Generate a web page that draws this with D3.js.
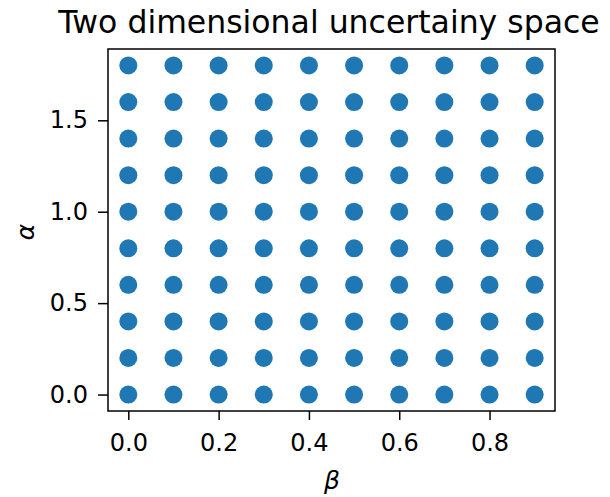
<!DOCTYPE html>
<html>
<head>
<meta charset="utf-8">
<script src="https://cdn.jsdelivr.net/npm/d3@7"></script>
<style>
  body { margin: 0; background: #fff; }
  svg { display: block; font-family: "DejaVu Sans", sans-serif; }
</style>
</head>
<body>
<svg id="chart" width="610" height="497"></svg>
<script>
// Grid of sampled parameter values
const betaValues = [0.0, 0.1, 0.2, 0.3, 0.4, 0.5, 0.6, 0.7, 0.8, 0.9];
const alphaValues = [0.0, 0.2, 0.4, 0.6, 0.8, 1.0, 1.2, 1.4, 1.6, 1.8];
const xTicks = [0.0, 0.2, 0.4, 0.6, 0.8];
const yTicks = [0.0, 0.5, 1.0, 1.5];

const points = [];
alphaValues.forEach(a => betaValues.forEach(b => points.push({ beta: b, alpha: a })));

const svg = d3.select("#chart");
const plot = { left: 108, top: 49, right: 555, bottom: 411 };

const x = d3.scaleLinear().domain([-0.045, 0.945]).range([plot.left, plot.right]);
const y = d3.scaleLinear().domain([-0.09, 1.89]).range([plot.bottom, plot.top]);

svg.append("g")
  .selectAll("circle")
  .data(points)
  .join("circle")
  .attr("cx", d => x(d.beta))
  .attr("cy", d => y(d.alpha))
  .attr("r", 9)
  .attr("fill", "#1f77b4");

// Frame
svg.append("rect")
  .attr("x", plot.left).attr("y", plot.top)
  .attr("width", plot.right - plot.left).attr("height", plot.bottom - plot.top)
  .attr("fill", "none").attr("stroke", "#000").attr("stroke-width", 1.5);

const xAxis = svg.append("g")
  .attr("transform", `translate(0,${plot.bottom})`)
  .call(d3.axisBottom(x).tickValues(xTicks).tickFormat(d3.format(".1f")).tickSizeOuter(0).tickSize(9).tickPadding(14));
const yAxis = svg.append("g")
  .attr("transform", `translate(${plot.left},0)`)
  .call(d3.axisLeft(y).tickValues(yTicks).tickFormat(d3.format(".1f")).tickSizeOuter(0).tickSize(10).tickPadding(10));

[xAxis, yAxis].forEach(g => {
  g.select(".domain").remove();
  g.selectAll(".tick line").attr("stroke", "#000").attr("stroke-width", 1.5);
  g.selectAll(".tick text").attr("fill", "#000")
    .style("font-family", "'DejaVu Sans', sans-serif").style("font-size", "24px");
});

svg.append("text")
  .attr("x", 329).attr("y", 33)
  .attr("text-anchor", "middle")
  .style("font-size", "31.5px")
  .text("Two dimensional uncertainy space");

svg.append("text")
  .attr("x", 332).attr("y", 489)
  .attr("text-anchor", "middle")
  .style("font-size", "25px").style("font-style", "italic")
  .text("β");

svg.append("text")
  .attr("transform", "translate(34,232) rotate(-90)")
  .attr("text-anchor", "middle")
  .style("font-size", "25px").style("font-style", "italic")
  .text("α");
</script>
</body>
</html>
